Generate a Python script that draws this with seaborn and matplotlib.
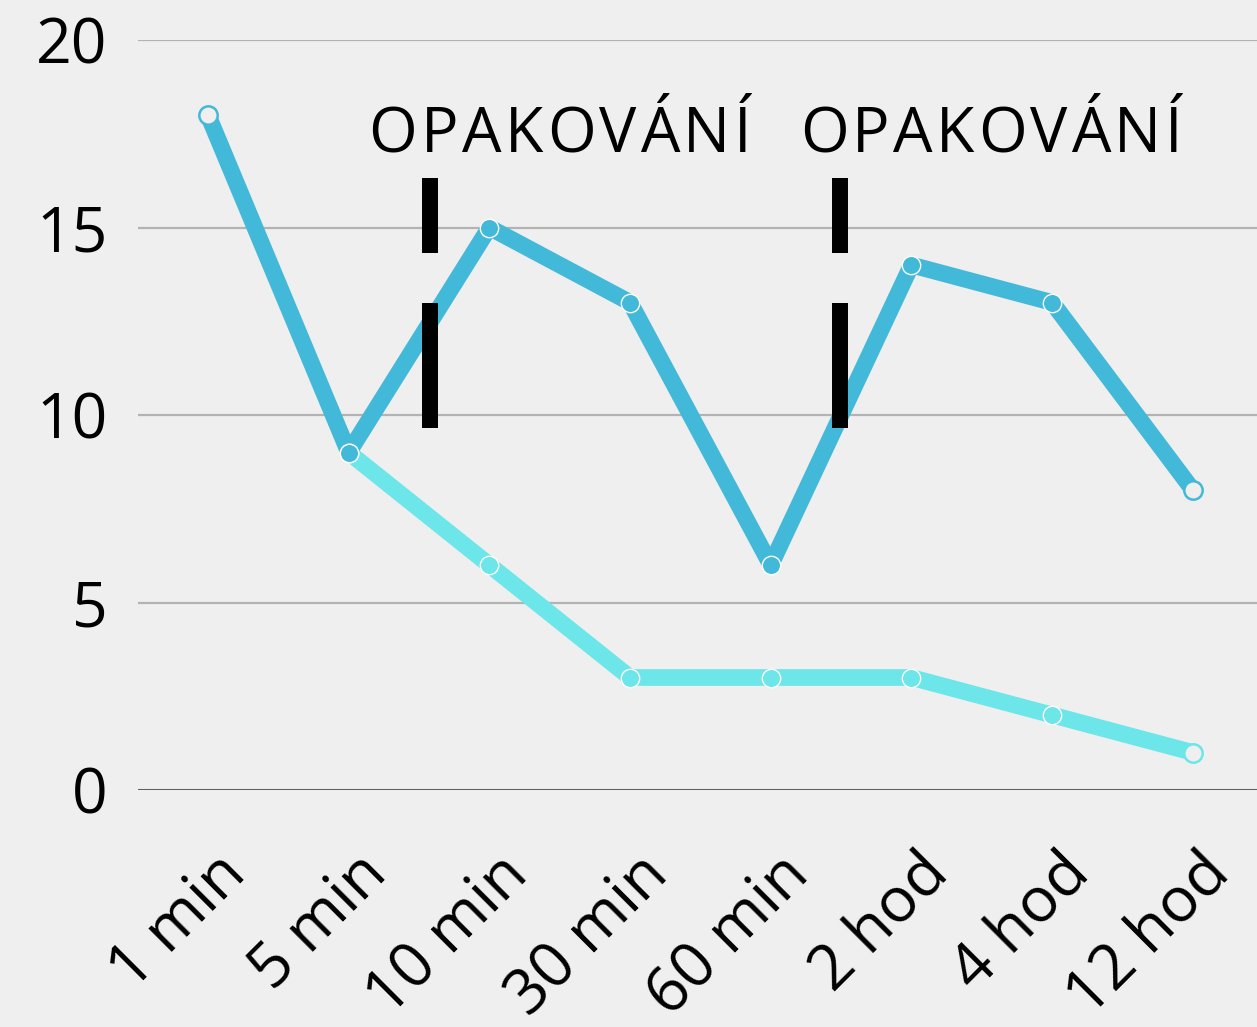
import numpy as np
import pandas as pd
import matplotlib
matplotlib.use('Agg')
import matplotlib.pyplot as plt
import matplotlib.transforms as mtrans
from matplotlib.font_manager import FontProperties
import seaborn as sns

# %% data
labels = ['1 min', '5 min', '10 min', '30 min', '60 min', '2 hod', '4 hod', '12 hod']
s_opak = [18, 9, 15, 13, 6, 14, 13, 8]
s_bez = [np.nan, 9, 6, 3, 3, 3, 2, 1]
rep_x = [1.58, 4.49]
rep_dash = [(9.65, 13.0), (14.32, 16.32)]
rep_text_x = [2.5, 5.565]
rep_text = 'OPAKOVÁNÍ'

bg = '#efefef'
c_dark = '#42b9d8'
c_light = '#6ce6e8'

sns.set_theme(style='white')
plt.rcParams['font.family'] = ['Open Sans', 'DejaVu Sans']

fig = plt.figure(figsize=(12.57, 10.27), dpi=100, facecolor=bg)
ax = fig.add_axes([138 / 1257, 1 - 790 / 1027, 1 - 138 / 1257, (790 - 40) / 1027])
ax.set_facecolor(bg)

x = np.arange(len(labels))
df = pd.DataFrame({'x': np.concatenate([x, x]),
                   'y': s_bez + s_opak,
                   'serie': ['bez'] * len(x) + ['opak'] * len(x)}).dropna()

# grid
for v in [5, 10, 15, 20]:
    ax.axhline(v, color='#b3b3b3', lw=1.6, zorder=0)
ax.axhline(0, color='#5f5f5f', lw=2.2, zorder=0)

for name, col in [('bez', c_light), ('opak', c_dark)]:
    d = df[df.serie == name]
    sns.lineplot(data=d, x='x', y='y', color=col, lw=12, ax=ax,
                 solid_capstyle='round', solid_joinstyle='round', zorder=2)
    mid = d.iloc[1:-1] if name == 'opak' else d.iloc[:-1]
    ends = d.iloc[[0, -1]] if name == 'opak' else d.iloc[[-1]]
    sns.scatterplot(data=mid, x='x', y='y', color=col, s=175,
                    edgecolor='white', linewidth=1.0, ax=ax, zorder=3)
    sns.scatterplot(data=ends, x='x', y='y', color=bg, s=175,
                    edgecolor=col, linewidth=1.8, ax=ax, zorder=3)

# repetition markers
for rx in rep_x:
    for y0, y1 in rep_dash:
        ax.plot([rx, rx], [y0, y1], color='black', lw=11.5,
                solid_capstyle='butt', zorder=4)

ax.set_xlim(-0.4975, 7.456)
ax.set_ylim(0, 20)

# letter-spaced label
renderer = fig.canvas.get_renderer()
fp = FontProperties(family='Open Sans', size=45)
def w(s):
    return renderer.get_text_width_height_descent(s, fp, ismath=False)[0]
spacing = 3.5
full = w(rep_text)
total = full + spacing * (len(rep_text) - 1)
for tx in rep_text_x:
    for i, ch in enumerate(rep_text):
        left = w(rep_text[:i + 1]) - w(ch)
        dx = (-total / 2 + left + i * spacing) / fig.dpi
        tr = ax.transData + mtrans.ScaledTranslation(dx, 0, fig.dpi_scale_trans)
        ax.text(tx, 17, ch, ha='left', va='baseline', fontproperties=fp,
                color='black', zorder=5, transform=tr)

ax.set_yticks([0, 5, 10, 15, 20])
ax.set_yticklabels(['0', '5', '10', '15', '20'], fontsize=45, color='black')
ax.set_xticks(x)
ax.set_xticklabels([])
lab_tr = ax.get_xaxis_transform() + mtrans.ScaledTranslation(0.40, -0.86, fig.dpi_scale_trans)
for xi, lab in zip(x, labels):
    ax.text(xi, 0, lab, rotation=45, rotation_mode='anchor', ha='right',
            va='baseline', fontsize=45, color='black', transform=lab_tr,
            clip_on=False)
ax.tick_params(axis='y', length=0, pad=22)
ax.tick_params(axis='x', length=0, pad=0)
ax.set_xlabel('')
ax.set_ylabel('')
for s in ax.spines.values():
    s.set_visible(False)

fig.savefig('out.png', dpi=100, facecolor=bg)
